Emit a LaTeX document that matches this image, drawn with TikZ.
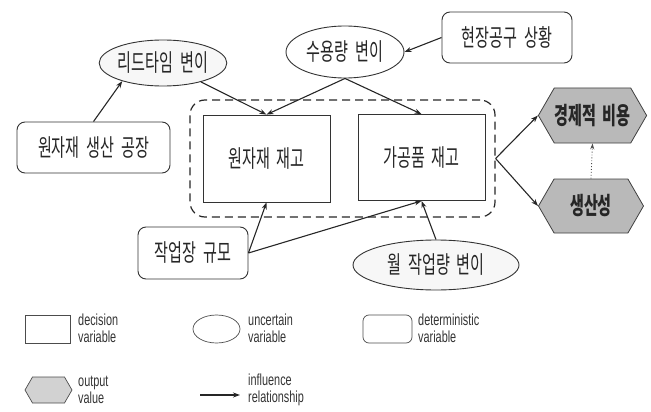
\documentclass[tikz,border=0pt]{standalone}
\usepackage{fontspec}
\newfontfamily\krfont[WordSpace=2]{Noto Sans CJK KR}
\newfontfamily\legfont{Liberation Sans}
\usetikzlibrary{shapes.geometric,shapes.symbols,arrows.meta}

% condensed text helpers
\newcommand\krtext[1]{\scalebox{0.63}[1]{#1}}
\newcommand\legline[1]{\scalebox{0.68}[1]{#1}}

\tikzset{
  lbl/.style={font=\krfont\fontsize{24}{26}\selectfont, text=black!85},
  legtext/.style={font=\legfont\fontsize{16}{17}\selectfont, text=black!80, align=left, anchor=west, inner sep=0pt},
  decision/.style={draw=black!80, line width=0.8pt, inner sep=0pt, lbl},
  determ/.style={draw=black!80, line width=0.9pt, rounded corners=8pt, inner sep=0pt, lbl},
  uncert/.style={ellipse, draw=black!80, line width=0.9pt, inner sep=0pt, lbl},
  outval/.style={signal, signal to=west and east, signal pointer angle=120,
    draw=black!75, fill=gray!55, line width=0.8pt, inner sep=0pt, lbl,
    font=\krfont\bfseries\fontsize{24}{26}\selectfont},
  group/.style={draw=black!85, dash pattern=on 8pt off 5pt, line width=1.2pt, rounded corners=15pt, inner sep=0pt},
  infl/.style={-{Stealth[length=7pt,width=5pt]}, line width=1.1pt, draw=black!85},
  weak/.style={-{Stealth[length=6pt,width=4pt]}, line width=0.9pt, dotted, draw=black!70},
}

\begin{document}
\begin{tikzpicture}[x=1pt,y=-1pt]
\useasboundingbox (0,0) rectangle (651,412);

% grouped inventory decisions
\node[group, minimum width=305pt, minimum height=117pt] (grp) at (342.5,158.5) {};
\node[decision, minimum width=127pt, minimum height=87pt] (raw) at (266.5,158.5) {\krtext{원자재 재고}};
\node[decision, minimum width=127pt, minimum height=86pt] (proc) at (421.5,157.5) {\krtext{가공품 재고}};

% uncertain variables
\node[uncert, fill=gray!6, minimum width=126pt, minimum height=46pt] (lead) at (163,63) {\krtext{리드타임 변이}};
\node[uncert, fill=white, minimum width=118pt, minimum height=52pt] (cap) at (345,52) {\krtext{수용량 변이}};
\node[uncert, fill=gray!6, minimum width=166pt, minimum height=50pt] (month) at (436,265) {\krtext{월 작업량 변이}};

% deterministic variables
\node[determ, minimum width=153pt, minimum height=51pt] (plant) at (93.5,147.5) {\krtext{원자재 생산 공장}};
\node[determ, minimum width=130pt, minimum height=51pt] (site) at (507,37.5) {\krtext{현장공구 상황}};
\node[determ, minimum width=110pt, minimum height=52pt] (work) at (193,253) {\krtext{작업장 규모}};

% output values
\node[outval, minimum width=105pt, minimum height=55pt] (cost) at (592.5,115.5) {\krtext{경제적 비용}};
\node[outval, minimum width=105pt, minimum height=54pt] (prod) at (591,206) {\krtext{생산성}};

% influence relationships
\draw[infl] (plant.north) -- (lead.204);
\draw[infl] (lead) -- (raw.north);
\draw[infl] (cap.south) -- (raw.north);
\draw[infl] (cap.south) -- (proc.north);
\draw[infl] (site.west) -- (cap.east);
\draw[infl] (work.east) -- (raw.south);
\draw[infl] (work.east) -- (proc.south);
\draw[infl] (month.north) -- (proc.south);
\draw[infl] (grp.east) -- (cost.west);
\draw[infl] (grp.east) -- (prod.west);
\draw[weak] (prod.north) -- (cost.south);

% legend
\node[draw=black!70, line width=0.7pt, minimum width=45pt, minimum height=28pt, inner sep=0pt] (kdec) at (47.5,329) {};
\node[legtext] (tdec) at (78,328) {\legline{decision}\\\legline{variable}};
\node[ellipse, draw=black!70, line width=0.7pt, minimum width=47pt, minimum height=28pt, inner sep=0pt] (kunc) at (216.5,329) {};
\node[legtext] (tunc) at (248,328) {\legline{uncertain}\\\legline{variable}};
\node[draw=black!70, line width=0.7pt, rounded corners=6pt, minimum width=49pt, minimum height=28pt, inner sep=0pt] (kdet) at (387.5,329) {};
\node[legtext] (tdet) at (418,328) {\legline{deterministic}\\\legline{variable}};
\node[signal, signal to=west and east, signal pointer angle=120, draw=black!70, fill=gray!35, line width=0.7pt, minimum width=47pt, minimum height=26pt, inner sep=0pt] (kout) at (48.5,390) {};
\node[legtext] (tout) at (78,390) {\legline{output}\\\legline{value}};
\coordinate (ka) at (200,395);
\coordinate (kb) at (240,395);
\draw[infl] (ka) -- (kb);
\node[legtext] (tinf) at (248,390) {\legline{influence}\\\legline{relationship}};
\end{tikzpicture}
\end{document}
